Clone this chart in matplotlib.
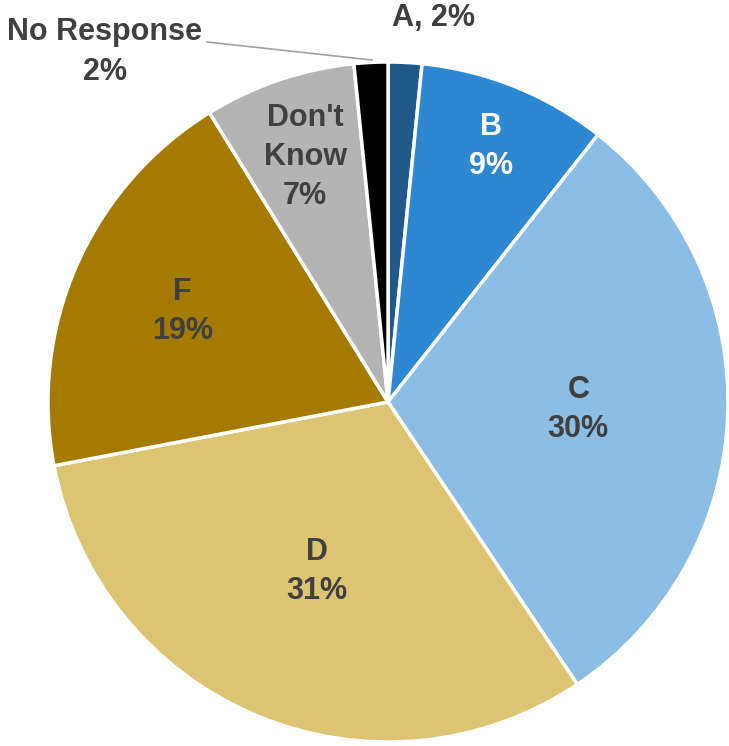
import matplotlib
matplotlib.use("Agg")
import matplotlib.pyplot as plt
import numpy as np

labels = ["A", "B", "C", "D", "F", "Don't\nKnow", "No Response"]
values = [1.6, 9.0, 30.0, 31.4, 19.2, 7.2, 1.6]
pct_text = ["2%", "9%", "30%", "31%", "19%", "7%", "2%"]
colors = ["#1f5a8a", "#2e87d1", "#8bbde5", "#dcc473", "#a57a00", "#b4b4b4", "#000000"]

plt.rcParams['font.family'] = ['Liberation Sans', 'DejaVu Sans']

fig = plt.figure(figsize=(7.29, 7.46), dpi=100)
ax = fig.add_axes([0, 0, 1, 1])

cx, cy, R = 388, 344, 340
wedges, _ = ax.pie(values, colors=colors, startangle=90, counterclock=False,
                   center=(cx, cy), radius=R, frame=True,
                   wedgeprops=dict(edgecolor='white', linewidth=2.5))
ax.set_xlim(0, 729)
ax.set_ylim(0, 746)
ax.set_aspect('equal')
ax.axis('off')

# radial distance (fraction of radius) for inside labels
rfrac = {1: 0.81, 2: 0.56, 3: 0.54, 4: 0.66, 5: 0.76}
txtcol = {1: 'white'}
for i, w in enumerate(wedges):
    if i not in rfrac:
        continue
    ang = np.deg2rad((w.theta1 + w.theta2) / 2)
    x = cx + rfrac[i] * R * np.cos(ang)
    y = cy + rfrac[i] * R * np.sin(ang)
    ax.text(x, y, labels[i] + "\n" + pct_text[i], ha='center', va='center',
            fontsize=22, fontweight='bold', color=txtcol.get(i, '#404040'),
            linespacing=1.4)

# outside labels
ax.text(434, 728, labels[0] + ", " + pct_text[0], ha='center', va='center',
        fontsize=22, fontweight='bold', color='#404040')
ax.text(105, 694, labels[6] + "\n" + pct_text[6], ha='center', va='center',
        fontsize=22, fontweight='bold', color='#404040', linespacing=1.4)
ax.plot([207, 372], [704, 686], color='#a0a0a0', linewidth=1.2)

fig.savefig("out.png", dpi=100)
